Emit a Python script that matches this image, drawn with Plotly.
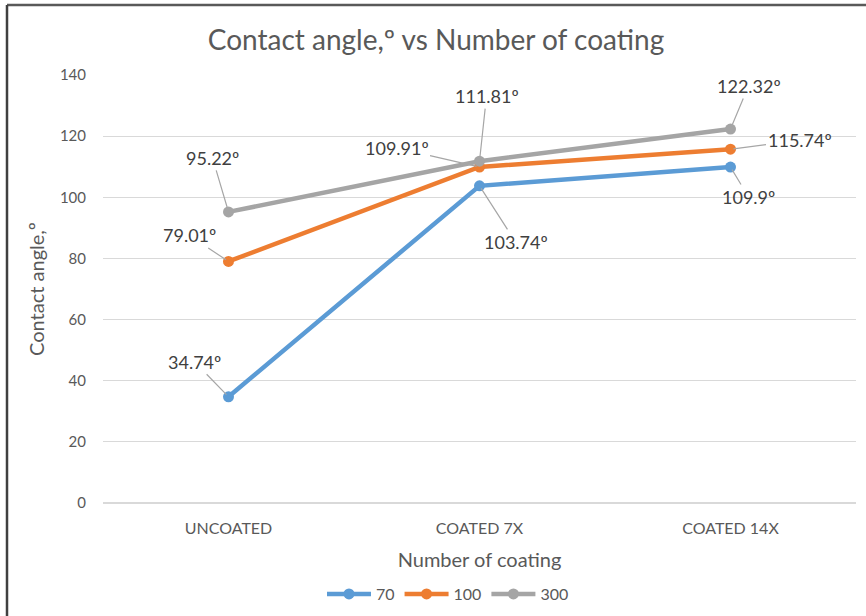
import plotly.graph_objects as go

# Coating stages and measured contact angles (degrees) per series
categories = ["UNCOATED", "COATED 7X", "COATED 14X"]
series_names = ["70", "100", "300"]
angle_70 = [34.74, 103.74, 109.9]
angle_100 = [79.01, 109.91, 115.74]
angle_300 = [95.22, 111.81, 122.32]
y_ticks = [0, 20, 40, 60, 80, 100, 120, 140]

colors = ["#5B9BD5", "#ED7D31", "#A5A5A5"]
font_family = "Lato, 'Open Sans', sans-serif"
text_color = "#595959"
label_color = "#404040"

fig = go.Figure()
for name, values, color in zip(series_names, [angle_70, angle_100, angle_300], colors):
    fig.add_trace(go.Scatter(
        x=categories, y=values, name=name, mode="lines+markers",
        line=dict(color=color, width=4.5),
        marker=dict(color=color, size=11),
    ))

# Data labels with leader lines: (series values, point index, pixel offset of label)
label_offsets = [
    (angle_300, 0, -16, -54),
    (angle_100, 0, -39, -26),
    (angle_70, 0, -34, -35),
    (angle_100, 1, -83, -19),
    (angle_300, 1, 7, -65),
    (angle_70, 1, 36, 56),
    (angle_300, 2, 18, -43),
    (angle_100, 2, 69, -9),
    (angle_70, 2, 18, 30),
]
for values, idx, ax, ay in label_offsets:
    v = values[idx]
    fig.add_annotation(
        x=categories[idx], y=v, text=f"{v}\u00ba",
        showarrow=True, arrowhead=0, arrowwidth=1.2, arrowcolor="#A6A6A6",
        ax=ax, ay=ay, standoff=3,
        font=dict(family=font_family, size=18, color=label_color),
    )

# Outer frame lines on the left and top
px_left, px_right, px_top, px_bottom = 103, 10, 75, 113
plot_w = 866 - px_left - px_right
plot_h = 616 - px_top - px_bottom
x_frame = (7 - px_left) / plot_w
y_frame = 1 + (px_top - 5) / plot_h
fig.add_shape(type="line", xref="paper", yref="paper", x0=x_frame, x1=1 + px_right / plot_w,
              y0=y_frame, y1=y_frame, line=dict(color="#595959", width=2.5))
fig.add_shape(type="line", xref="paper", yref="paper", x0=x_frame, x1=x_frame,
              y0=y_frame, y1=-px_bottom / plot_h - 0.01, line=dict(color="#404040", width=2.5))

fig.update_layout(
    width=866, height=616,
    margin=dict(l=px_left, r=px_right, t=px_top, b=px_bottom, autoexpand=False),
    paper_bgcolor="white", plot_bgcolor="white",
    font=dict(family=font_family, color=text_color),
    title=dict(text="Contact angle,\u00ba vs Number of coating", x=(436) / 866, xanchor="center",
               y=1 - 40 / 616, yanchor="middle",
               font=dict(family=font_family, size=28, color=text_color)),
    xaxis=dict(
        type="category", range=[-0.5, 2.5], automargin=False,
        showgrid=False, zeroline=False, showline=False,
        tickfont=dict(size=16, color=text_color), ticklabelstandoff=14,
        title=dict(text="Number of coating", font=dict(size=20, color=text_color), standoff=16),
    ),
    yaxis=dict(
        range=[0, 140], tickvals=y_ticks, automargin=False,
        showgrid=True, gridcolor="#D9D9D9", gridwidth=1,
        zeroline=True, zerolinecolor="#D9D9D9", zerolinewidth=1.5, showline=False,
        tickfont=dict(size=15, color=text_color), ticklabelstandoff=16,
        title=dict(text="Contact angle,\u00ba", font=dict(size=20, color=text_color), standoff=9),
    ),
    legend=dict(orientation="h", x=(448 - px_left) / plot_w, xanchor="center",
                y=(503 - 594) / plot_h, yanchor="middle",
                font=dict(size=16, color=text_color), itemwidth=44),
    showlegend=True,
)

fig.write_html("out.html")
